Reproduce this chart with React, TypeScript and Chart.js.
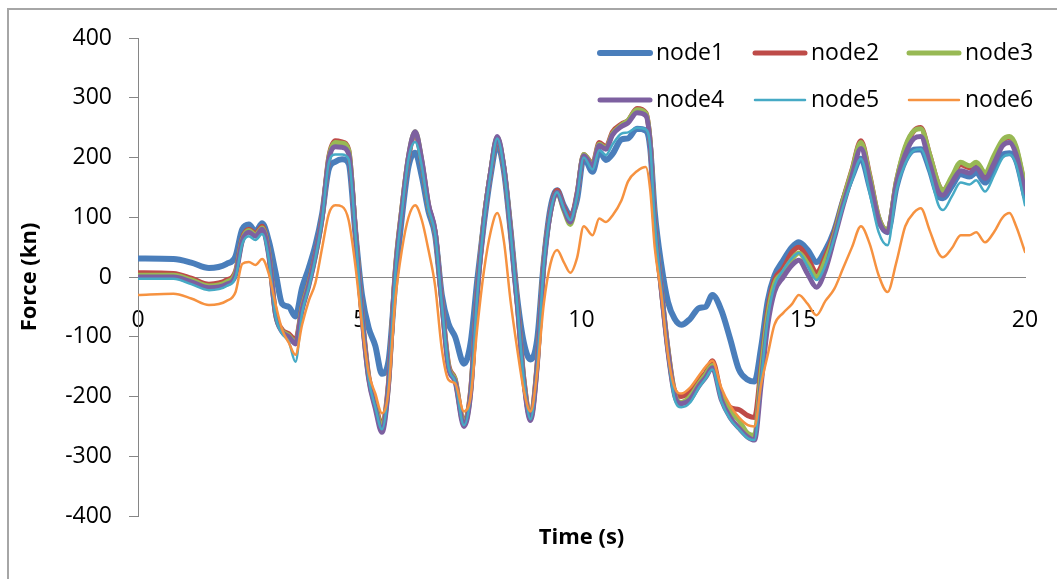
import React, { useEffect, useRef } from "react";
import { Chart, registerables } from "chart.js";

Chart.register(...registerables);

// ---- data ----
const TIME_S = [
  0, 0.8, 1.2, 1.6, 2.0, 2.2, 2.35, 2.5, 2.65, 2.8,
  2.95, 3.1, 3.25, 3.4, 3.55, 3.7, 3.85, 4.0, 4.15, 4.3,
  4.45, 4.6, 4.75, 4.9, 5.05, 5.2, 5.35, 5.5, 5.65, 5.8,
  5.95, 6.1, 6.25, 6.4, 6.55, 6.7, 6.85, 7.0, 7.15, 7.35,
  7.5, 7.65, 7.8, 7.95, 8.1, 8.25, 8.4, 8.55, 8.7, 8.85,
  9.0, 9.15, 9.3, 9.45, 9.6, 9.75, 9.9, 10.05, 10.25, 10.4,
  10.55, 10.7, 10.9, 11.05, 11.25, 11.45, 11.55, 11.65, 11.8, 11.95,
  12.1, 12.25, 12.45, 12.65, 12.8, 12.95, 13.15, 13.35, 13.55, 13.75,
  13.9, 14.05, 14.2, 14.35, 14.55, 14.75, 14.9, 15.1, 15.3, 15.5,
  15.7, 15.9, 16.1, 16.3, 16.5, 16.7, 16.9, 17.1, 17.3, 17.5,
  17.65, 17.85, 18.05, 18.15, 18.35, 18.55, 18.75, 18.9, 19.1, 19.3,
  19.5, 19.65, 19.8, 20.0,
];

const NODE1 = [
  31, 30, 24, 15, 22, 35, 80, 88, 76, 90,
  60, 8, -45, -50, -66, -18, 15, 53, 105, 180,
  193, 197, 190, 75, -30, -85, -115, -162, -140, -10,
  100, 185, 208, 168, 110, 70, -30, -78, -100, -145,
  -110, -5, 90, 170, 222, 178, 78, -35, -110, -138,
  -105, 25, 115, 145, 120, 103, 130, 200, 176, 210,
  196, 206, 230, 232, 248, 245, 215, 110, 20, -42,
  -70, -80, -70, -52, -50, -30, -55, -103, -155, -172,
  -175, -118, -40, 2, 28, 50, 58, 45, 25, 45,
  78, 128, 168, 198, 150, 95, 75, 150, 195, 213,
  214, 180, 135, 132, 152, 172, 168, 175, 158, 183,
  205, 207, 195, 135,
];

const NODE2 = [
  7, 6, -2, -12, -5, 10, 65, 80, 73, 85,
  40, -60, -88, -95, -105, -50, -10, 38, 100, 200,
  228, 226, 213, 80, -60, -165, -210, -248, -175, 10,
  115, 200, 240, 192, 120, 75, -40, -145, -170, -243,
  -190, -25, 95, 175, 232, 182, 80, -40, -170, -235,
  -145, 25, 110, 145, 118, 97, 140, 205, 190, 225,
  218, 243, 256, 262, 282, 275, 225, 95, -20, -120,
  -190, -200, -192, -172, -160, -140, -195, -218, -222, -232,
  -235, -150, -55, -5, 15, 42, 50, 32, 8, 35,
  75, 130, 180, 228, 170, 100, 78, 160, 215, 245,
  250, 205, 155, 145, 165, 188, 183, 190, 172, 200,
  228, 234, 215, 150,
];

const NODE3 = [
  3, 3, -5, -15, -8, 7, 62, 78, 70, 82,
  38, -62, -90, -98, -110, -52, -12, 35, 98, 198,
  225, 224, 212, 80, -62, -168, -215, -252, -178, 8,
  115, 202, 243, 194, 120, 75, -40, -148, -172, -246,
  -192, -25, 95, 175, 234, 183, 80, -42, -172, -236,
  -147, 25, 108, 142, 112, 88, 138, 205, 188, 222,
  216, 240, 254, 262, 280, 274, 225, 95, -20, -122,
  -195, -210, -200, -178, -163, -148, -198, -225, -240, -262,
  -265, -160, -65, -12, 8, 30, 40, 22, 0, 28,
  70, 128, 178, 225, 168, 100, 78, 160, 218, 245,
  248, 205, 155, 145, 168, 192, 186, 192, 175, 203,
  230, 235, 218, 152,
];

const NODE4 = [
  0, 0, -8, -18, -12, 3, 60, 75, 68, 80,
  35, -62, -92, -100, -112, -55, -15, 35, 98, 195,
  218, 217, 206, 78, -65, -170, -220, -260, -180, 5,
  112, 202, 243, 195, 122, 76, -42, -152, -175, -250,
  -195, -28, 92, 175, 235, 183, 78, -45, -175, -240,
  -150, 22, 108, 142, 115, 92, 138, 203, 186, 220,
  214, 238, 252, 258, 275, 270, 222, 92, -22, -125,
  -198, -212, -205, -182, -168, -152, -205, -235, -253, -268,
  -273, -180, -80, -25, 0, 20, 28, 5, -17, 12,
  65, 120, 170, 215, 160, 95, 75, 155, 205, 232,
  235, 190, 142, 137, 158, 178, 174, 183, 165, 190,
  220, 225, 205, 142,
];

const NODE5 = [
  -3, -3, -12, -22, -15, 0, 55, 68, 62, 72,
  30, -65, -95, -108, -142, -60, -18, 32, 95, 190,
  205, 205, 197, 75, -65, -170, -218, -255, -180, 3,
  108, 198, 226, 185, 115, 72, -45, -150, -175, -248,
  -195, -30, 90, 172, 232, 180, 76, -45, -172, -238,
  -150, 20, 108, 142, 115, 95, 135, 200, 180, 212,
  204, 222, 240, 242, 250, 247, 218, 95, -20, -128,
  -205, -218, -210, -185, -170, -155, -208, -238, -255, -270,
  -273, -172, -70, -15, 12, 32, 40, 18, -5, 20,
  65, 118, 162, 198, 140, 75, 53, 145, 190, 212,
  214, 175, 120, 112, 135, 158, 155, 162, 143, 170,
  200, 205, 188, 120,
];

const NODE6 = [
  -30, -28, -36, -47, -40, -25, 22, 25, 20, 30,
  5, -45, -88, -110, -130, -80, -40, -10, 48, 105,
  120, 118, 95, 20, -80, -160, -195, -228, -190, -40,
  45, 100, 120, 95, 45, -15, -120, -172, -178, -225,
  -200, -85, 10, 75, 107, 60, -40, -120, -190, -225,
  -160, -45, 22, 45, 25, 7, 32, 85, 70, 98,
  92, 103, 128, 160, 177, 184, 145, 50, -30, -130,
  -185, -195, -185, -165, -150, -140, -185, -215, -235, -248,
  -250, -180, -130, -80, -60, -45, -30, -45, -64, -40,
  -20, 15, 50, 85, 55, 3, -25, 25, 85, 108,
  115, 78, 40, 33, 48, 70, 70, 75, 58, 75,
  100, 107, 85, 42,
];

const SERIES_NAMES = ["node1", "node2", "node3", "node4", "node5", "node6"];
const X_TICK_STEP = 5;
const X_MIN = 0;
const X_MAX = 20;
const Y_MIN = -400;
const Y_MAX = 400;
const Y_TICK_STEP = 100;
const X_TITLE = "Time (s)";
const Y_TITLE = "Force (kn)";

// ---- styles ----
const COLORS = ["#4A7EBB", "#BE4B48", "#98B954", "#7D60A0", "#46AAC5", "#F69240"];
const WIDTHS = [6, 5, 5, 5, 2.5, 2.5];
const FONT = "'Open Sans', 'Noto Sans', sans-serif";
const AXIS_GRAY = "#868686";

export default function App() {
  const canvasRef = useRef<HTMLCanvasElement | null>(null);

  useEffect(() => {
    const canvas = canvasRef.current;
    if (!canvas) return;
    const series = [NODE1, NODE2, NODE3, NODE4, NODE5, NODE6];

    const datasets = series.map((vals, i) => ({
      label: SERIES_NAMES[i],
      data: TIME_S.map((t, j) => ({ x: t, y: vals[j] })),
      borderColor: COLORS[i],
      backgroundColor: COLORS[i],
      borderWidth: WIDTHS[i],
      pointRadius: 0,
      pointHoverRadius: 0,
      fill: false,
      cubicInterpolationMode: "monotone" as const,
      borderCapStyle: "round" as const,
      borderJoinStyle: "round" as const,
      order: series.length - 1 - i,
    }));

    const legendPlugin = {
      id: "excelLegend",
      afterDraw(chart: any) {
        const ctx = chart.ctx as CanvasRenderingContext2D;
        const cols = [598, 753, 907];
        const rows = [53, 100];
        ctx.save();
        ctx.font = `23px ${FONT}`;
        ctx.textBaseline = "middle";
        ctx.textAlign = "left";
        SERIES_NAMES.forEach((name, i) => {
          const x0 = cols[i % 3];
          const y = rows[Math.floor(i / 3)];
          ctx.strokeStyle = COLORS[i];
          ctx.lineWidth = WIDTHS[i];
          ctx.lineCap = "round";
          ctx.beginPath();
          ctx.moveTo(x0 + 2, y);
          ctx.lineTo(x0 + 52, y);
          ctx.stroke();
          ctx.fillStyle = "#000";
          ctx.fillText(name, x0 + 58, y);
        });
        ctx.restore();
      },
    };

    const chart = new Chart(canvas, {
      type: "line",
      data: { datasets },
      options: {
        animation: false,
        responsive: true,
        maintainAspectRatio: false,
        layout: { padding: { left: 0, top: 38, right: 32, bottom: 0 } },
        plugins: {
          legend: { display: false },
          tooltip: { enabled: false },
          title: { display: false },
        },
        scales: {
          x: {
            type: "linear",
            min: X_MIN,
            max: X_MAX,
            position: { y: 0 } as any,
            ticks: {
              stepSize: X_TICK_STEP,
              padding: 0,
              color: "#000",
              font: { family: FONT, size: 23 },
              maxRotation: 0,
              autoSkip: false,
            },
            grid: {
              display: true,
              drawOnChartArea: false,
              drawTicks: true,
              tickLength: 30,
              tickColor: "rgba(0,0,0,0)",
            },
            border: { display: true, color: AXIS_GRAY, width: 1 },
          },
          x2: {
            type: "linear",
            position: "bottom",
            min: X_MIN,
            max: X_MAX,
            ticks: { display: false },
            grid: { display: false },
            border: { display: false },
            title: {
              display: true,
              text: X_TITLE,
              color: "#000",
              font: { family: FONT, size: 22, weight: "bold" },
              padding: { top: 0, bottom: 28 },
            },
            afterFit: (s: any) => {
              s.height = 63;
            },
          },
          y: {
            type: "linear",
            position: "left",
            min: Y_MIN,
            max: Y_MAX,
            ticks: {
              stepSize: Y_TICK_STEP,
              padding: 17,
              color: "#000",
              font: { family: FONT, size: 23 },
            },
            grid: {
              display: true,
              drawOnChartArea: false,
              drawTicks: true,
              tickLength: 9,
              color: AXIS_GRAY,
            },
            border: { display: true, color: AXIS_GRAY, width: 1 },
            title: {
              display: true,
              text: Y_TITLE,
              color: "#000",
              font: { family: FONT, size: 22, weight: "bold" },
              padding: { top: 17, bottom: 0 },
            },
            afterFit: (s: any) => {
              s.width = 138;
            },
          },
        } as any,
      },
      plugins: [legendPlugin],
    });

    return () => chart.destroy();
  }, []);

  return (
    <div
      style={{
        position: "absolute",
        left: 0,
        top: 0,
        width: 1057,
        height: 579,
        overflow: "hidden",
        background: "#fff",
      }}
    >
      <div
        style={{
          position: "absolute",
          left: 7,
          top: 8,
          width: 1100,
          height: 620,
          borderLeft: "2px solid #a6a6a6",
          borderTop: "2px solid #a6a6a6",
        }}
      />
      <div style={{ position: "absolute", left: 0, top: 0, width: 1057, height: 579 }}>
        <canvas ref={canvasRef} />
      </div>
    </div>
  );
}
